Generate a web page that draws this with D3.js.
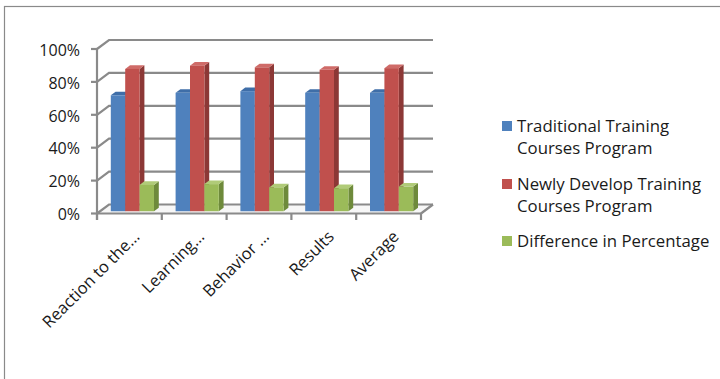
<!DOCTYPE html>
<html>
<head>
<meta charset="utf-8">
<script src="https://cdn.jsdelivr.net/npm/d3@7"></script>
<style>
  body { margin: 0; background: #fff; }
  svg text { font-family: "Open Sans", Lato, sans-serif; fill: #1a1a1a; }
</style>
</head>
<body>
<svg id="CHART" width="720" height="379"></svg>
<script>
const categories = ["Reaction to the\u2026", "Learning\u2026", "Behavior \u2026", "Results", "Average"];
const seriesNames = ["Traditional Training Courses Program", "Newly Develop Training Courses Program", "Difference in Percentage"];
const traditional = [70.5, 72, 73, 72, 72];
const newlyDevelop = [86.5, 88.5, 87.5, 86, 87];
const difference = [16, 16.5, 14.5, 14, 15];
const yTicks = [0, 20, 40, 60, 80, 100];
const legendLines = [["Traditional Training", "Courses Program"], ["Newly Develop Training", "Courses Program"], ["Difference in Percentage"]];

const series = [traditional, newlyDevelop, difference];
// front / side / top colours per series
const faces = [
  { front: "#4f81bd", side: "#3a6296", top: "#3f6ea8" },
  { front: "#c0504d", side: "#8c3836", top: "#cf6b68" },
  { front: "#9bbb59", side: "#6e8a3b", top: "#b0cb78" },
];

const svg = d3.select("#CHART");

// outer chart frame (only top + left edge show in the crop)
svg.append("rect")
  .attr("x", 4.5).attr("y", 6.5)
  .attr("width", 900).attr("height", 600)
  .attr("fill", "none").attr("stroke", "#8a8a8a").attr("stroke-width", 1.2);

const DX = 12, DY = -9; // depth of the 3D box
const x = d3.scaleBand().domain(categories).range([97, 421]);
const y = d3.scaleLinear().domain([0, 100]).range([213.5, 49]);
const xs = d3.scaleBand().domain(d3.range(series.length)).range([0, x.bandwidth()]).paddingOuter(0.75);

const grid = svg.append("g");
// floor
grid.append("path")
  .attr("d", `M${x.range()[0]},${y(0)}L${x.range()[1]},${y(0)}L${x.range()[1] + DX},${y(0) + DY}L${x.range()[0] + DX},${y(0) + DY}Z`)
  .attr("fill", "#f7f7f7").attr("stroke", "#c8c8c8").attr("stroke-width", 1);

// gridlines: side wall diagonal + back wall horizontal
grid.selectAll("path.gl")
  .data(yTicks)
  .join("path")
  .attr("class", "gl")
  .attr("d", (d) => `M${x.range()[0]},${y(d)}L${x.range()[0] + DX},${y(d) + DY}L${x.range()[1] + DX},${y(d) + DY}`)
  .attr("fill", "none").attr("stroke", "#8a8a8a").attr("stroke-width", 2.2);

// right edge of the floor
grid.append("line")
  .attr("x1", x.range()[1]).attr("y1", y(0))
  .attr("x2", x.range()[1] + DX).attr("y2", y(0) + DY)
  .attr("stroke", "#8a8a8a").attr("stroke-width", 2.2);

// bars
const f1 = 0.25, f2 = 0.65;
const bars = svg.append("g");
categories.forEach((c, ci) => {
  series.forEach((vals, si) => {
    const v = vals[ci];
    const w = xs.bandwidth();
    const x0 = x(c) + xs(si) + f1 * DX;
    const yt = y(v) + f1 * DY;
    const yb = y(0) + f1 * DY;
    const ddx = (f2 - f1) * DX, ddy = (f2 - f1) * DY;
    const g = bars.append("g");
    g.append("path")
      .attr("d", `M${x0 + w},${yt}L${x0 + w + ddx},${yt + ddy}L${x0 + w + ddx},${yb + ddy}L${x0 + w},${yb}Z`)
      .attr("fill", faces[si].side);
    g.append("path")
      .attr("d", `M${x0},${yt}L${x0 + w},${yt}L${x0 + w + ddx},${yt + ddy}L${x0 + ddx},${yt + ddy}Z`)
      .attr("fill", faces[si].top);
    g.append("rect")
      .attr("x", x0).attr("y", yt)
      .attr("width", w).attr("height", yb - yt)
      .attr("fill", faces[si].front);
  });
});

// axes
const axis = svg.append("g").attr("stroke", "#8a8a8a").attr("stroke-width", 2.2);
axis.append("line")
  .attr("x1", x.range()[0]).attr("y1", y(100))
  .attr("x2", x.range()[0]).attr("y2", y(0) + 6.5);
axis.append("line")
  .attr("x1", x.range()[0]).attr("y1", y(0))
  .attr("x2", x.range()[1]).attr("y2", y(0));
axis.selectAll("line.yt")
  .data(yTicks)
  .join("line")
  .attr("class", "yt")
  .attr("x1", x.range()[0] - 6).attr("x2", x.range()[0])
  .attr("y1", (d) => y(d)).attr("y2", (d) => y(d));
axis.selectAll("line.xt")
  .data(categories.map((c) => x(c)).concat([x.range()[1]]))
  .join("line")
  .attr("class", "xt")
  .attr("x1", (d) => d).attr("x2", (d) => d)
  .attr("y1", y(0)).attr("y2", y(0) + 6.5);

svg.append("g")
  .selectAll("text")
  .data(yTicks)
  .join("text")
  .attr("x", 80).attr("y", (d) => y(d) + 1)
  .attr("dy", "0.36em")
  .attr("text-anchor", "end")
  .style("font-size", "16px")
  .text((d) => d + "%");

svg.append("g")
  .selectAll("text")
  .data(categories)
  .join("text")
  .attr("transform", (d) => `translate(${x(d) + x.bandwidth() / 2 + 7},${y(0) + 20}) rotate(-45)`)
  .attr("dy", "0.36em")
  .attr("text-anchor", "end")
  .style("font-size", "16.5px")
  .text((d) => d);

// legend
const legendTop = [126, 184, 241];
const lg = svg.append("g");
legendLines.forEach((lines, i) => {
  lg.append("rect")
    .attr("x", 502).attr("y", legendTop[i] - 5)
    .attr("width", 10).attr("height", 10)
    .attr("fill", faces[i].front);
  const t = lg.append("text")
    .attr("x", 517).attr("y", legendTop[i])
    .style("font-size", "16.8px");
  lines.forEach((l, li) => {
    t.append("tspan").attr("x", 517).attr("dy", li === 0 ? "0.36em" : 22).text(l);
  });
});
</script>
</body>
</html>
